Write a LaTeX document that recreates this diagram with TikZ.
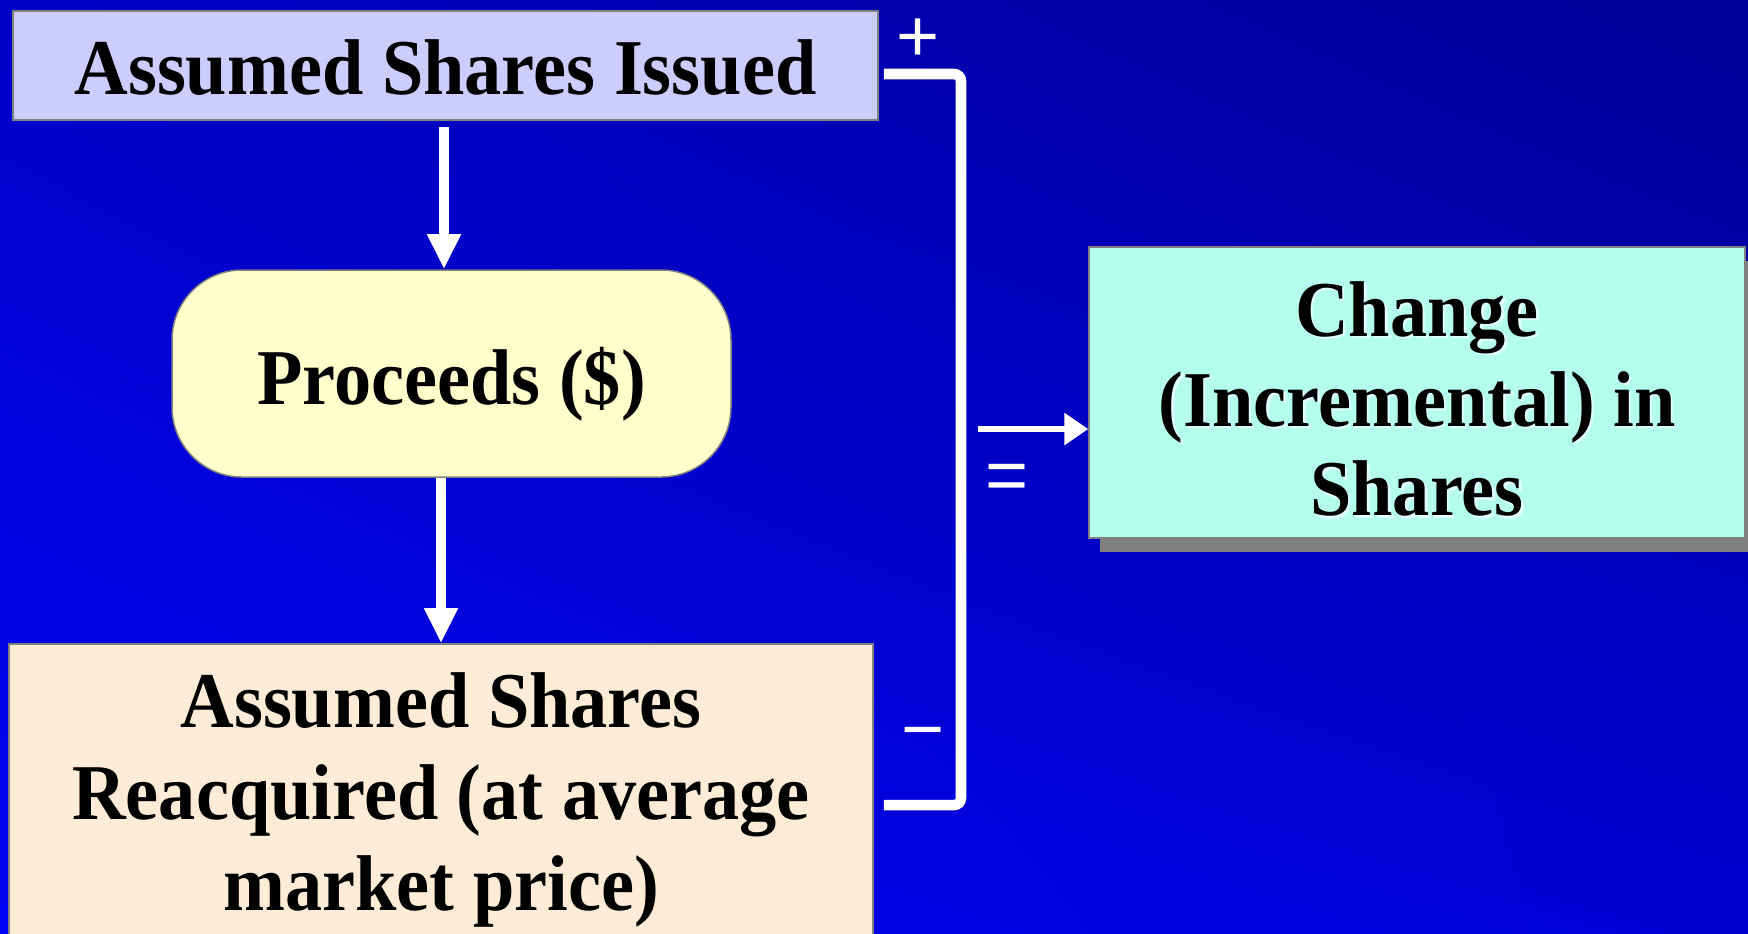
\documentclass[tikz,border=0pt]{standalone}
\usepackage{fontspec}
\usetikzlibrary{arrows.meta,shadows,calc,shadings}
\newfontfamily\boxfont{Liberation Serif}[FakeStretch=0.94]
\newfontfamily\signfont{Liberation Sans}
\definecolor{bordergray}{RGB}{128,128,128}
\definecolor{topfill}{RGB}{204,204,255}
\definecolor{procfill}{RGB}{255,255,204}
\definecolor{botfill}{RGB}{255,236,214}
\definecolor{chgfill}{RGB}{180,255,236}
\definecolor{shadowgray}{RGB}{128,128,128}
\definecolor{bgul}{RGB}{0,0,200}
\definecolor{bgll}{RGB}{4,4,245}
\definecolor{bgur}{RGB}{0,0,150}
\definecolor{bglr}{RGB}{0,0,212}
\definecolor{glow}{RGB}{225,255,255}
\newcommand{\lowerby}[2]{\raisebox{-#1}[\height][\depth]{#2}}
\tikzset{
  box/.style={draw=bordergray, line width=0.15mm, align=center, inner sep=0pt,
    font=\boxfont\bfseries\fontsize{22.5}{25.5}\selectfont},
  flow/.style={draw=white, line width=3.1pt, -{Triangle[width=9pt,length=10pt]}},
  eqflow/.style={draw=white, line width=1.8pt, -{Triangle[width=8.8pt,length=6.8pt]}},
  bracket/.style={draw=white, line width=3pt, rounded corners=2pt},
  sign/.style={text=white, inner sep=0pt, font=\signfont\fontsize{21}{21}\selectfont}
}
\begin{document}
\begin{tikzpicture}[x=0.1mm,y=-0.1mm]
\useasboundingbox (0,0) rectangle (1748,933);
\clip (0,0) rectangle (1748,933);
\shade[upper left=bgul, lower left=bgll, upper right=bgur, lower right=bglr]
  (0,0) rectangle (1748,933);

% boxes
\node[box, fill=topfill, minimum width=86.5mm, minimum height=10.9mm] (top) at (445.5,65.5)
  {\lowerby{0.25mm}{Assumed Shares Issued}};
\node[box, fill=procfill, minimum width=55.9mm, minimum height=20.7mm, rounded corners=7mm] (proc) at (451.5,373.5)
  {\lowerby{1.1mm}{Proceeds (\$)}};
\node[box, fill=botfill, minimum width=86.4mm, minimum height=29.6mm] (bot) at (441,792)
  {\lowerby{0.8mm}{\parbox{80mm}{\centering\fontsize{22.5}{26}\selectfont Assumed Shares\\Reacquired (at average\\market price)}}};
\node[box, fill=chgfill, minimum width=65.6mm, minimum height=29.1mm,
      drop shadow={shadow xshift=1.1mm, shadow yshift=-1.4mm, fill=shadowgray, opacity=1}] (chg) at (1417,392.5) {};
\node[align=center, inner sep=0pt, text=glow, font=\boxfont\bfseries\fontsize{22.5}{25.5}\selectfont] (chgshadow) at (1419.5,401.5)
  {Change\\(Incremental) in\\Shares};
\node[align=center, inner sep=0pt, font=\boxfont\bfseries\fontsize{22.5}{25.5}\selectfont] (chgtext) at (1417,399)
  {Change\\(Incremental) in\\Shares};

% vertical flow arrows
\draw[flow] ([xshift=-0.15mm,yshift=-0.6mm]top.south) -- ([xshift=-0.15mm]top.south |- proc.north);
\draw[flow] (proc.south -| bot.north) -- (bot.north);

% bracket
\coordinate (bt) at (961,74);
\coordinate (bb) at (961,805);
\draw[bracket] ($(top.east)+(5,8.5)$) -- (bt) -- (bb) -- ($(bot.east |- bb)+(10,0)$);

% equals arrow
\coordinate (eqs) at (978,429);
\draw[eqflow] (eqs) -- (eqs -| chg.west);

% signs
\node[sign] (plus) at (918,40) {+};
\node[sign] (minus) at (923,741) {\char"2212};
\node[sign] (eq) at (1007,482) {=};
\end{tikzpicture}
\end{document}
